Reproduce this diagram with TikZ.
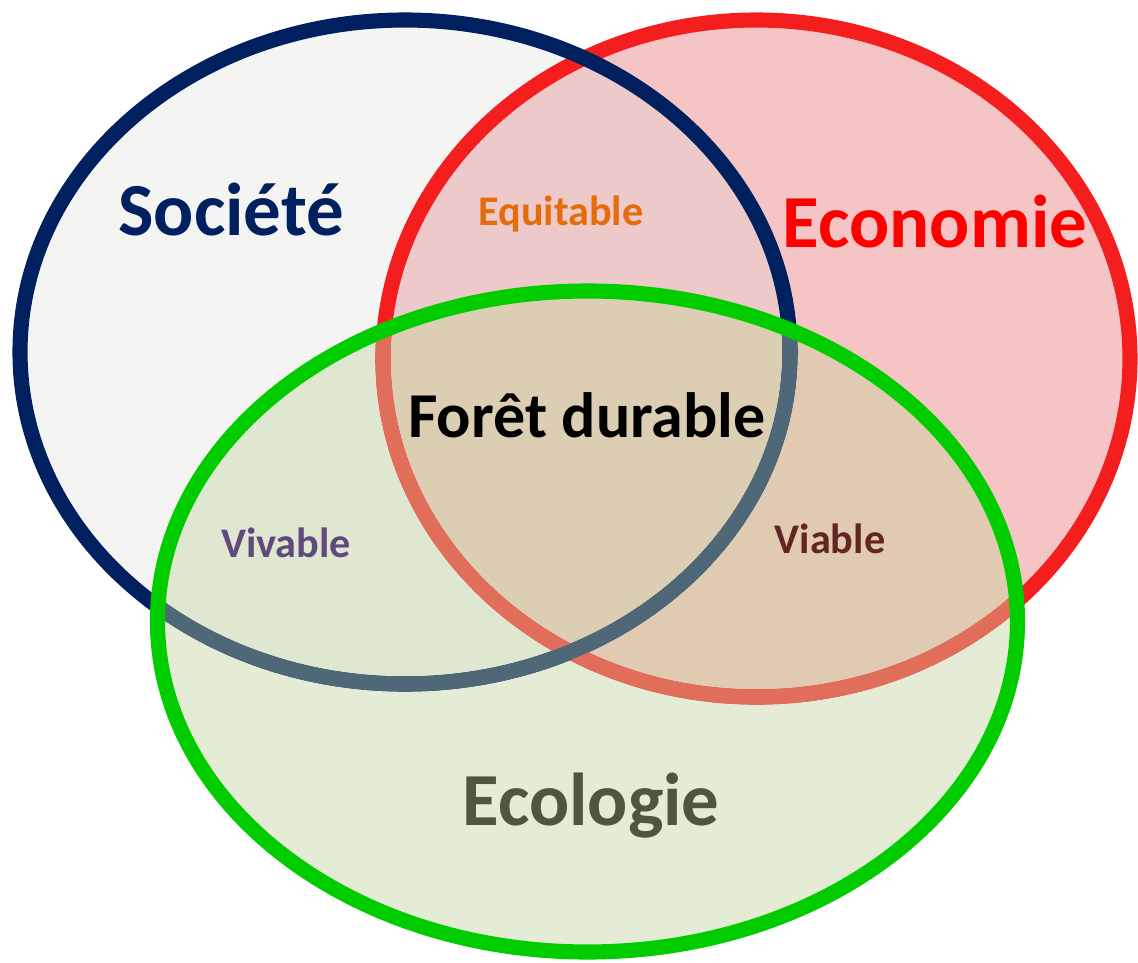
\documentclass[tikz,border=0pt]{standalone}
\usepackage{fontspec}
\setmainfont{Carlito}
\usepackage{xcolor}
\definecolor{socblue}{RGB}{0,32,95}
\definecolor{socblueg}{RGB}{79,104,120}
\definecolor{ecored}{RGB}{245,30,30}
\definecolor{ecoredg}{RGB}{224,110,90}
\definecolor{ecolgreen}{RGB}{0,204,0}
\definecolor{socfill}{RGB}{244,244,243}
\definecolor{ecofill}{RGB}{245,197,197}
\definecolor{soceco}{RGB}{238,201,201}
\definecolor{ecolfill}{RGB}{228,236,214}
\definecolor{socecol}{RGB}{223,231,208}
\definecolor{ecoecol}{RGB}{225,202,178}
\definecolor{allfill}{RGB}{220,206,179}
\definecolor{equicol}{RGB}{228,108,10}
\definecolor{vivcol}{RGB}{96,74,123}
\definecolor{viacol}{RGB}{99,37,35}
\definecolor{ecoltext}{RGB}{79,85,63}

\tikzset{
  socshape/.style={insert path={(405,352) ellipse [x radius=385, y radius=332]}},
  ecoshape/.style={insert path={(756.5,358.5) ellipse [x radius=373.5, y radius=338.5]}},
  ecolshape/.style={insert path={(587.5,621.5) ellipse [x radius=430, y radius=330.5]}},
  ring/.style={line width=4.3pt},
  bigword/.style={font=\fontsize{21.3}{24}\selectfont\bfseries, anchor=base},
  smallword/.style={font=\fontsize{12}{14}\selectfont\bfseries, anchor=base}
}

\begin{document}
\begin{tikzpicture}[x=0.01cm, y=-0.01cm]
  \useasboundingbox (0,0) rectangle (1138,963);
  % fills of the three sets
  \fill[socfill, socshape];
  \fill[ecofill, ecoshape];
  \begin{scope}
    \clip[socshape];
    \fill[soceco, ecoshape];
  \end{scope}
  \fill[ecolfill, ecolshape];
  \begin{scope}
    \clip[ecolshape];
    \fill[socecol, socshape];
    \fill[ecoecol, ecoshape];
    \clip[socshape];
    \fill[allfill, ecoshape];
  \end{scope}
  % rings
  \draw[ring, ecored, ecoshape];
  \draw[ring, socblue, socshape];
  \begin{scope}
    \clip[ecolshape];
    \draw[ring, ecoredg, ecoshape];
    \draw[ring, socblueg, socshape];
  \end{scope}
  \draw[ring, ecolgreen, ecolshape];
  % labels
  \node[bigword, text=socblue] (societe) at (231,235) {Société};
  \node[bigword, text=red] (economie) at (935,247) {Economie};
  \node[smallword, text=equicol] (equitable) at (561,225) {Equitable};
  \node[font=\fontsize{18.2}{21}\selectfont\bfseries, anchor=base] (foret) at (587,437) {Forêt durable};
  \node[smallword, text=vivcol] (vivable) at (286,557) {Vivable};
  \node[smallword, text=viacol] (viable) at (830,553) {Viable};
  \node[bigword, text=ecoltext] (ecologie) at (591,825) {Ecologie};
\end{tikzpicture}
\end{document}
